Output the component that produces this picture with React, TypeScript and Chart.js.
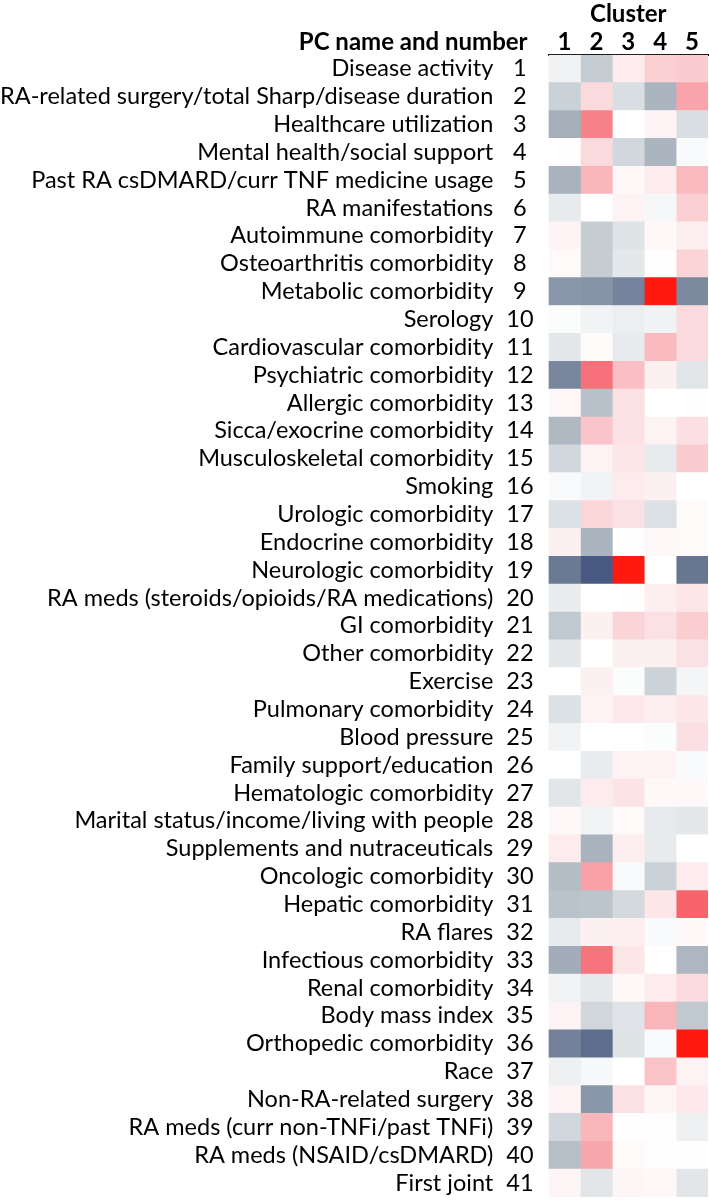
import React, { useEffect, useRef } from 'react';
import { Chart, registerables } from 'chart.js';

Chart.register(...registerables);

const pcNames = [
  'Disease activity',
  'RA-related surgery/total Sharp/disease duration',
  'Healthcare utilization',
  'Mental health/social support',
  'Past RA csDMARD/curr TNF medicine usage',
  'RA manifestations',
  'Autoimmune comorbidity',
  'Osteoarthritis comorbidity',
  'Metabolic comorbidity',
  'Serology',
  'Cardiovascular comorbidity',
  'Psychiatric comorbidity',
  'Allergic comorbidity',
  'Sicca/exocrine comorbidity',
  'Musculoskeletal comorbidity',
  'Smoking',
  'Urologic comorbidity',
  'Endocrine comorbidity',
  'Neurologic comorbidity',
  'RA meds (steroids/opioids/RA medications)',
  'GI comorbidity',
  'Other comorbidity',
  'Exercise',
  'Pulmonary comorbidity',
  'Blood pressure',
  'Family support/education',
  'Hematologic comorbidity',
  'Marital status/income/living with people',
  'Supplements and nutraceuticals',
  'Oncologic comorbidity',
  'Hepatic comorbidity',
  'RA flares',
  'Infectious comorbidity',
  'Renal comorbidity',
  'Body mass index',
  'Orthopedic comorbidity',
  'Race',
  'Non-RA-related surgery',
  'RA meds (curr non-TNFi/past TNFi)',
  'RA meds (NSAID/csDMARD)',
  'First joint',
];

const pcNumbers = [
  '1', '2', '3', '4', '5', '6', '7', '8', '9', '10',
  '11', '12', '13', '14', '15', '16', '17', '18', '19', '20',
  '21', '22', '23', '24', '25', '26', '27', '28', '29', '30',
  '31', '32', '33', '34', '35', '36', '37', '38', '39', '40', '41',
];

const clusterLabels = ['1', '2', '3', '4', '5'];

const cluster1 = [
  -0.08, -0.27, -0.45, 0.01, -0.43, -0.12, 0.05, 0.02, -0.6, -0.02,
  -0.14, -0.7, 0.03, -0.4, -0.24, -0.03, -0.18, 0.06, -0.78, -0.11,
  -0.32, -0.14, 0.0, -0.18, -0.07, 0.0, -0.15, 0.03, 0.08, -0.38,
  -0.35, -0.12, -0.46, -0.07, 0.05, -0.73, -0.09, 0.05, -0.24, -0.37, 0.04,
];
const cluster2 = [
  -0.3, 0.15, 0.55, 0.15, 0.33, 0.0, -0.3, -0.3, -0.62, -0.07,
  0.02, 0.62, -0.36, 0.25, 0.05, -0.07, 0.17, -0.42, -0.95, 0.0,
  0.06, 0.0, 0.06, 0.05, 0.0, -0.11, 0.08, -0.07, -0.43, 0.43,
  -0.34, 0.06, 0.6, -0.13, -0.24, -0.85, -0.04, -0.6, 0.32, 0.4, -0.15,
];
const cluster3 = [
  0.08, -0.2, 0.0, -0.24, 0.03, 0.05, -0.17, -0.14, -0.72, -0.1,
  -0.12, 0.28, 0.12, 0.12, 0.1, 0.08, 0.12, 0.01, 1.0, 0.01,
  0.18, 0.06, -0.02, 0.09, 0.0, 0.05, 0.11, 0.02, 0.07, -0.03,
  -0.23, 0.07, 0.1, 0.03, -0.16, -0.17, 0.0, 0.12, 0.01, 0.02, 0.04,
];
const cluster4 = [
  0.2, -0.42, 0.05, -0.42, 0.08, -0.05, 0.03, 0.01, 1.0, -0.08,
  0.3, 0.06, 0.0, 0.05, -0.12, 0.06, -0.18, 0.03, 0.0, 0.07,
  0.12, 0.06, -0.26, 0.07, -0.02, 0.05, 0.03, -0.12, -0.12, -0.27,
  0.1, -0.03, 0.0, 0.08, 0.33, -0.03, 0.26, 0.04, 0.01, 0.01, 0.03,
];
const cluster5 = [
  0.22, 0.42, -0.2, -0.03, 0.3, 0.2, 0.07, 0.18, -0.68, 0.15,
  0.15, -0.15, 0.01, 0.13, 0.22, 0.0, 0.02, 0.02, -0.8, 0.1,
  0.21, 0.12, -0.06, 0.1, 0.13, -0.03, 0.03, -0.14, 0.0, 0.08,
  0.72, 0.03, -0.41, 0.15, -0.32, 1.0, 0.05, 0.09, -0.09, 0.01, -0.15,
];

const clusterValues = [cluster1, cluster2, cluster3, cluster4, cluster5];

type Stop = [number, number, number, number];
const NEG_STOPS: Stop[] = [
  [0, 255, 255, 255],
  [0.15, 226, 230, 233],
  [0.3, 197, 205, 211],
  [0.45, 165, 175, 186],
  [0.6, 138, 151, 170],
  [0.8, 103, 119, 146],
  [1, 62, 80, 125],
];
const POS_STOPS: Stop[] = [
  [0, 255, 255, 255],
  [0.15, 251, 218, 221],
  [0.3, 249, 187, 192],
  [0.45, 248, 158, 164],
  [0.6, 246, 116, 124],
  [0.75, 248, 96, 104],
  [1, 255, 26, 16],
];

function colorFor(v: number): string {
  const stops = v < 0 ? NEG_STOPS : POS_STOPS;
  const t = Math.min(1, Math.abs(v));
  for (let i = 1; i < stops.length; i++) {
    if (t <= stops[i][0]) {
      const a = stops[i - 1];
      const b = stops[i];
      const f = (t - a[0]) / (b[0] - a[0]);
      const r = Math.round(a[1] + (b[1] - a[1]) * f);
      const g = Math.round(a[2] + (b[2] - a[2]) * f);
      const bl = Math.round(a[3] + (b[3] - a[3]) * f);
      return `rgb(${r},${g},${bl})`;
    }
  }
  const l = stops[stops.length - 1];
  return `rgb(${l[1]},${l[2]},${l[3]})`;
}

const FONT = 'Lato, "Open Sans", sans-serif';
const LABEL_SIZE = 23.5;
const HEAD_SIZE = 24;
const NUM_PAD = 15;
const NAME_PAD = 13;

function widestText(ctx: CanvasRenderingContext2D, texts: string[], font: string): number {
  ctx.save();
  ctx.font = font;
  let w = 0;
  for (const t of texts) w = Math.max(w, ctx.measureText(t).width);
  ctx.restore();
  return w;
}

const headerPlugin = {
  id: 'pcHeader',
  afterDraw(chart: any) {
    const { ctx } = chart;
    const yScale = chart.scales.y;
    const xScale = chart.scales.x;
    ctx.save();
    ctx.font = `bold ${HEAD_SIZE}px ${FONT}`;
    ctx.fillStyle = '#000';
    ctx.textAlign = 'right';
    ctx.textBaseline = 'middle';
    const x = yScale.right - 21;
    const y = xScale.bottom - 1 - HEAD_SIZE / 2;
    ctx.fillText('PC name and number', x, y);
    ctx.restore();
  },
};

export default function App() {
  const ref = useRef<HTMLCanvasElement | null>(null);

  useEffect(() => {
    if (!ref.current) return;
    const datasets = clusterValues.map((vals, ci) => ({
      label: `Cluster ${clusterLabels[ci]}`,
      data: vals.map(() => [ci + 0.5, ci + 1.5]),
      backgroundColor: vals.map((v) => colorFor(v)),
      borderWidth: 0,
      barPercentage: 1,
      categoryPercentage: 1,
      grouped: false,
      yAxisID: 'y',
      xAxisID: 'x',
    }));

    const labelFont = `${LABEL_SIZE}px ${FONT}`;

    const chart = new Chart(ref.current, {
      type: 'bar',
      data: { labels: pcNumbers, datasets: datasets as any },
      plugins: [headerPlugin],
      options: {
        indexAxis: 'y',
        animation: false,
        responsive: true,
        maintainAspectRatio: false,
        layout: { padding: { top: 0, right: 1, bottom: 3, left: 0 } },
        plugins: {
          legend: { display: false },
          tooltip: { enabled: false },
        },
        scales: {
          x: {
            type: 'linear',
            position: 'top',
            min: 0.5,
            max: 5.5,
            afterBuildTicks: (axis: any) => {
              axis.ticks = clusterLabels.map((l) => ({ value: Number(l) }));
            },
            ticks: {
              color: '#000',
              font: { family: FONT, size: HEAD_SIZE, weight: 'bold', lineHeight: 1.0 },
              padding: 1,
              maxRotation: 0,
              callback: (v: any) => String(v),
            },
            grid: { display: false, drawTicks: false },
            border: { display: true, color: '#000', width: 2 },
            title: {
              display: true,
              text: 'Cluster',
              color: '#000',
              font: { family: FONT, size: HEAD_SIZE, weight: 'bold', lineHeight: 1.2 },
              padding: { top: 0, bottom: 0 },
            },
            afterFit: (scale: any) => {
              scale.paddingLeft = 0;
              scale.paddingRight = 0;
            },
          },
          y: {
            type: 'category',
            position: 'left',
            weight: 1,
            offset: true,
            ticks: {
              color: '#000',
              font: { family: FONT, size: LABEL_SIZE },
              padding: NUM_PAD,
              crossAlign: 'center',
              autoSkip: false,
            },
            grid: { display: false, drawTicks: false, offset: true },
            border: { display: false },
            afterFit: (scale: any) => {
              scale.width = widestText(scale.ctx, pcNumbers, labelFont) + NUM_PAD;
              scale.paddingTop = 0;
              scale.paddingBottom = 0;
            },
          },
          yNames: {
            type: 'category',
            position: 'left',
            weight: 2,
            offset: true,
            labels: pcNames,
            ticks: {
              color: '#000',
              font: { family: FONT, size: LABEL_SIZE },
              padding: NAME_PAD,
              autoSkip: false,
            },
            grid: { display: false, drawTicks: false, offset: true },
            border: { display: false },
            afterFit: (scale: any) => {
              scale.width = widestText(scale.ctx, pcNames, labelFont) + NAME_PAD;
              scale.paddingTop = 0;
              scale.paddingBottom = 0;
            },
          },
        },
      } as any,
    });
    return () => chart.destroy();
  }, []);

  return (
    <div style={{ position: 'absolute', left: 0, top: 0, width: 709, height: 1200, background: '#fff' }}>
      <canvas ref={ref} />
    </div>
  );
}
